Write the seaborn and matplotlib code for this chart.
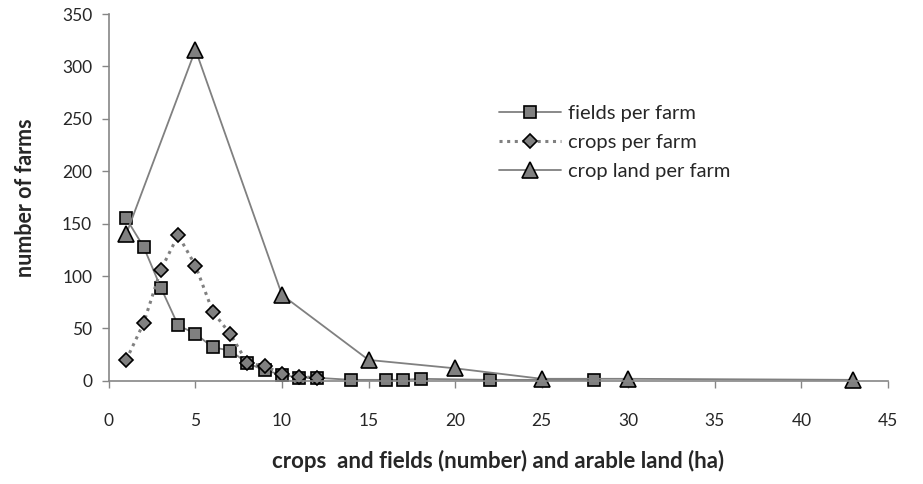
import numpy as np
import pandas as pd
import matplotlib
matplotlib.use("Agg")
import matplotlib.pyplot as plt
import seaborn as sns

# data
fields_x = [1, 2, 3, 4, 5, 6, 7, 8, 9, 10, 11, 12, 14, 16, 17, 18, 22, 28]
fields_y = [155, 128, 89, 53, 45, 32, 29, 17, 10, 6, 3, 3, 1, 1, 1, 2, 1, 1]

crops_x = [1, 2, 3, 4, 5, 6, 7, 8, 9, 10, 11, 12]
crops_y = [20, 55, 106, 139, 110, 66, 45, 17, 14, 7, 4, 3]

land_x = [1, 5, 10, 15, 20, 25, 30, 43]
land_y = [140, 316, 82, 20, 12, 2, 2, 1]

x_ticks = [0, 5, 10, 15, 20, 25, 30, 35, 40, 45]
y_ticks = [0, 50, 100, 150, 200, 250, 300, 350]

sns.set_style("white")
plt.rcParams['font.family'] = ['Lato', 'DejaVu Sans']

fig = plt.figure(figsize=(9.23, 4.84), dpi=100)
ax = fig.add_axes([0.118, 0.213, 0.844, 0.758])

line_col = "#808080"
fill_col = "#808080"

sns.lineplot(x=fields_x, y=fields_y, ax=ax, color=line_col, linewidth=1.3,
             marker="s", markersize=8, markerfacecolor=fill_col,
             markeredgecolor="black", markeredgewidth=1.2,
             label="fields per farm", clip_on=False)
sns.lineplot(x=crops_x, y=crops_y, ax=ax, color=line_col, linewidth=2.2,
             linestyle=(0, (1, 1.5)), marker="D", markersize=7.5,
             markerfacecolor=fill_col, markeredgecolor="black",
             markeredgewidth=1.2, label="crops per farm", clip_on=False)
sns.lineplot(x=land_x, y=land_y, ax=ax, color=line_col, linewidth=1.3,
             marker="^", markersize=12, markerfacecolor=fill_col,
             markeredgecolor="black", markeredgewidth=1.2,
             label="crop land per farm", clip_on=False)

ax.set_xlim(0, 45)
ax.set_ylim(0, 350)
ax.set_xticks(x_ticks)
ax.set_yticks(y_ticks)
ax.tick_params(axis="both", labelsize=12.5, direction="out", length=5,
               width=1, color="#868686", left=True, bottom=True)
ax.tick_params(axis="x", pad=18)
ax.tick_params(axis="y", pad=7)

for s in ["top", "right"]:
    ax.spines[s].set_visible(False)
for s in ["left", "bottom"]:
    ax.spines[s].set_color("#868686")
    ax.spines[s].set_linewidth(1.2)

ax.set_xlabel("crops  and fields (number) and arable land (ha)",
              fontsize=16, fontweight="bold", labelpad=15)
ax.set_ylabel("number of farms", fontsize=15.5, fontweight="bold", labelpad=19)

ax.legend(loc="upper left", bbox_to_anchor=(0.49, 0.775), frameon=False,
          fontsize=14.5, handlelength=3.1, handletextpad=0.35,
          labelspacing=0.6, borderaxespad=0)

fig.savefig("out.png", dpi=100)
